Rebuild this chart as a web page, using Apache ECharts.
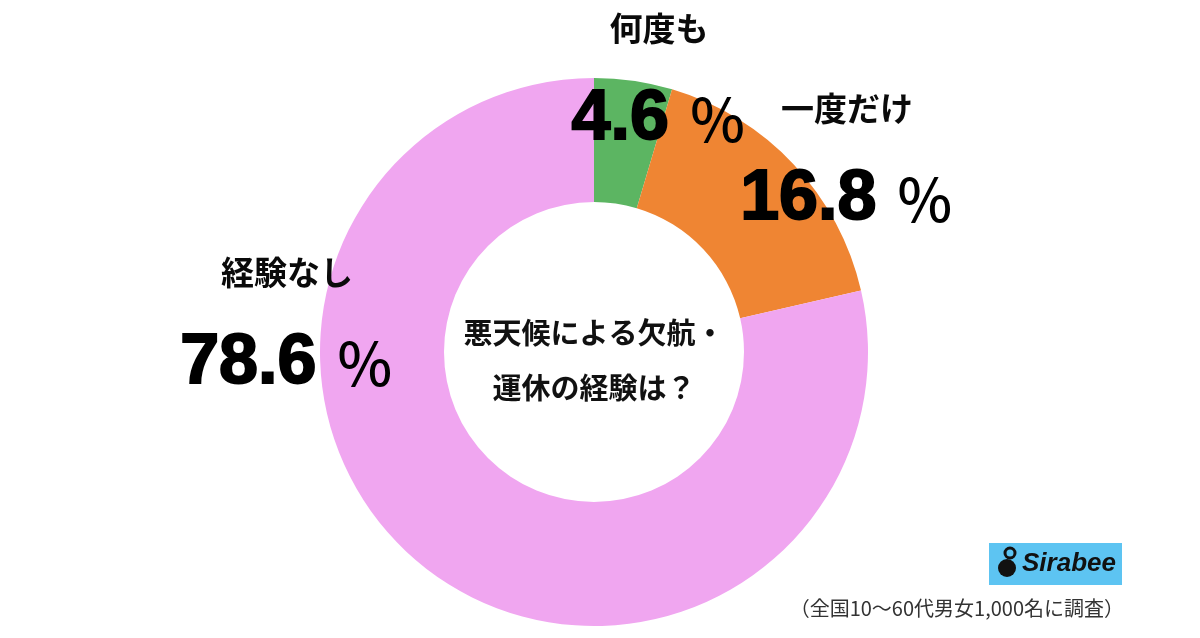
<!DOCTYPE html>
<html>
<head>
<meta charset="utf-8">
<script src="https://cdn.jsdelivr.net/npm/echarts@6/dist/echarts.min.js"></script>
<style>
html,body{margin:0;padding:0;background:#fff;}
#chart{width:1200px;height:638px;}
</style>
</head>
<body>
<div id="chart"></div>
<script>
const categories = ['何度も', '一度だけ', '経験なし'];
const values = [4.6, 16.8, 78.6];
const colors = ['#5CB562', '#EF8533', '#F0A6F0'];
const centerTitle = ['悪天候による欠航・', '運休の経験は？'];
const footnote = '（全国10〜60代男女1,000名に調査）';
const brand = 'Sirabee';

const labelPos = [
  { x: 659, y: 90 },
  { x: 847, y: 170 },
  { x: 287, y: 334 }
];

const chart = echarts.init(document.getElementById('chart'));
chart.setOption({
  backgroundColor: '#ffffff',
  animation: false,
  series: [{
    type: 'pie',
    center: [594, 352],
    radius: [150, 274],
    startAngle: 90,
    clockwise: true,
    avoidLabelOverlap: false,
    silent: true,
    itemStyle: { borderWidth: 0 },
    data: categories.map((c, i) => ({ name: c, value: values[i], itemStyle: { color: colors[i] } })),
    label: {
      show: true,
      position: 'outside',
      formatter: p => '{n|' + p.name + '}\n{v|' + p.value.toFixed(1) + ' }{p|％}',
      rich: {
        n: { fontFamily: 'Noto Sans CJK JP', fontWeight: 'bold', fontSize: 33, lineHeight: 60, color: '#0a0a0a', align: 'center' },
        v: { fontFamily: 'Liberation Sans', fontWeight: 'bold', fontSize: 70, lineHeight: 124, color: '#000', textBorderColor: '#000', textBorderWidth: 2 },
        p: { fontFamily: 'Noto Sans CJK JP', fontWeight: 500, fontSize: 58, lineHeight: 124, color: '#000' }
      }
    },
    labelLine: { show: false },
    labelLayout: params => ({
      x: labelPos[params.dataIndex].x,
      y: labelPos[params.dataIndex].y,
      align: 'center',
      verticalAlign: 'middle'
    })
  }],
  graphic: [
    {
      type: 'text',
      style: {
        text: centerTitle.join('\n'),
        x: 594, y: 360,
        textAlign: 'center', textVerticalAlign: 'middle',
        font: 'bold 29px "Noto Sans CJK JP"',
        lineHeight: 55,
        fill: '#111'
      }
    },
    {
      type: 'rect',
      shape: { x: 989, y: 543, width: 133, height: 42 },
      style: { fill: '#5DC4F2' }
    },
    {
      type: 'circle',
      shape: { cx: 1007, cy: 568, r: 9 },
      style: { fill: '#111' }
    },
    {
      type: 'circle',
      shape: { cx: 1010, cy: 553, r: 5 },
      style: { fill: 'none', stroke: '#111', lineWidth: 3 }
    },
    {
      type: 'text',
      style: {
        text: brand, x: 1022, y: 564,
        textAlign: 'left', textVerticalAlign: 'middle',
        font: 'italic bold 26px "Liberation Sans"', fill: '#111'
      }
    },
    {
      type: 'text',
      style: {
        text: footnote, x: 1124, y: 608,
        textAlign: 'right', textVerticalAlign: 'middle',
        font: '20px "Noto Sans CJK JP"', fill: '#333'
      }
    }
  ]
});
</script>
</body>
</html>
